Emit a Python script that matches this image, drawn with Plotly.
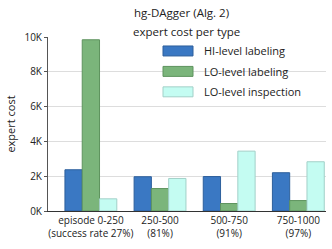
import plotly.graph_objects as go

categories = ["episode 0-250<br>(success rate 27%)", "250-500<br>(81%)", "500-750<br>(91%)", "750-1000<br>(97%)"]
series_names = ["HI-level labeling", "LO-level labeling", "LO-level inspection"]
hi_labeling = [2370, 1970, 1980, 2200]
lo_labeling = [9840, 1290, 430, 600]
lo_inspection = [700, 1870, 3440, 2830]
y_tickvals = [0, 2000, 4000, 6000, 8000, 10000]
y_ticktext = ["0K", "2K", "4K", "6K", "8K", "10K"]

fills = ["#3a78c3", "#7bb57b", "#c4fcf2"]
edges = ["#2d5f9c", "#5e935e", "#a2d0c8"]

W, H = 332, 249
L, R, T, B = 48, 6, 37, 37.5
pw, ph = W - L - R, H - T - B

def px2x(px):
    return (px - L) / pw

def py2y(py):
    return (H - B - py) / ph

font_family = "'Open Sans', sans-serif"
fig = go.Figure()
for name, vals, fc, ec in zip(series_names, [hi_labeling, lo_labeling, lo_inspection], fills, edges):
    fig.add_trace(go.Bar(x=list(range(len(categories))), y=vals, name=name,
                         marker=dict(color=fc, line=dict(color=ec, width=1)),
                         showlegend=False))

# manual legend (wide swatches)
rows = [51, 71.5, 92]
for name, fc, ec, ry in zip(series_names, fills, edges, rows):
    fig.add_shape(type="rect", xref="paper", yref="paper",
                  x0=px2x(163), x1=px2x(193), y0=py2y(ry + 5), y1=py2y(ry - 5),
                  fillcolor=fc, line=dict(color=ec, width=1))
    fig.add_annotation(xref="paper", yref="paper", x=px2x(202), y=py2y(ry),
                       text=name, showarrow=False, xanchor="left", yanchor="middle",
                       font=dict(size=11, color="#222", family=font_family))

fig.add_annotation(xref="paper", yref="paper", x=px2x(186.5), y=py2y(31),
                   text="expert cost per type", showarrow=False,
                   xanchor="center", yanchor="middle",
                   font=dict(size=11.5, color="#222", family=font_family))
fig.add_annotation(xref="paper", yref="paper", x=px2x(181.5), y=py2y(12),
                   text="hg-DAgger (Alg. 2)", showarrow=False,
                   xanchor="center", yanchor="middle",
                   font=dict(size=11.5, color="#222", family=font_family))

fig.update_layout(
    width=W, height=H,
    margin=dict(l=L, r=R, t=T, b=B, autoexpand=False),
    paper_bgcolor="white", plot_bgcolor="white",
    barmode="group", bargap=0.25, bargroupgap=0,
    font=dict(family=font_family, color="#222", size=10),
    xaxis=dict(range=[-0.62, 3.4], tickvals=list(range(len(categories))), ticktext=categories,
               showgrid=False, showline=True, linecolor="#333", linewidth=1,
               ticks="", tickfont=dict(size=10), zeroline=False, automargin=False),
    yaxis=dict(range=[0, 10000], tickvals=y_tickvals, ticktext=y_ticktext,
               showgrid=True, gridcolor="#dddddd", gridwidth=1,
               showline=True, linecolor="#555", linewidth=1,
               ticks="outside", ticklen=3, tickcolor="#555",
               tickfont=dict(size=10), zeroline=False, automargin=False,
               title=dict(text="expert cost", font=dict(size=11), standoff=6)),
)

fig.write_html("out.html", post_script="document.body.style.margin='0';",
               config={"displayModeBar": False})
